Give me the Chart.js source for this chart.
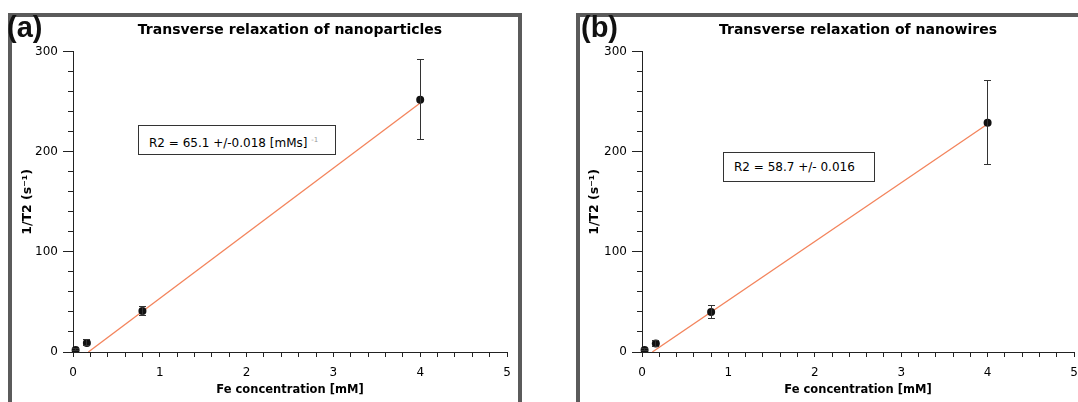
<!DOCTYPE html>
<html>
<head>
<meta charset="utf-8">
<script src="https://cdn.jsdelivr.net/npm/chart.js@4"></script>
<style>
  body { margin: 0; background: #fff; width: 1078px; height: 402px; overflow: hidden; position: relative; font-family: 'DejaVu Sans', sans-serif; }
  .frame { position: absolute; top: 13px; height: 420px; box-sizing: border-box; border: 4px solid #5b5b5b; }
  #frameA { left: 8px; width: 514px; }
  #frameB { left: 576px; width: 600px; }
  canvas { position: absolute; top: 0; }
  #chartA { left: 0; }
  #chartB { left: 538px; }
  .panel { position: absolute; top: 13px; font: bold 29px 'Liberation Sans', Arial, sans-serif; line-height: 29px; color: #111; }
  .fitbox { position: absolute; box-sizing: border-box; height: 30px; border: 1px solid #333; background: #fff;
            font-size: 12px; line-height: 28px; padding-left: 10px; color: #000; white-space: nowrap; }
  .fitbox .unit { font-size: 7px; color: #999; vertical-align: 5px; }
</style>
</head>
<body>
<div class="frame" id="frameA"></div>
<div class="frame" id="frameB"></div>
<canvas id="chartA" width="540" height="402"></canvas>
<canvas id="chartB" width="540" height="402"></canvas>
<div class="panel" style="left:7px">(a)</div>
<div class="panel" style="left:581px">(b)</div>
<div class="fitbox" style="left:138px; top:125px; width:198px">R2 = 65.1 +/-0.018 [mMs] <span class="unit">-1</span></div>
<div class="fitbox" style="left:723px; top:152px; width:152px">R2 = 58.7 +/- 0.016</div>

<script>
// Fe concentration of the samples [mM]
const feConc = [0.03, 0.16, 0.8, 4];

// 1/T2 [s^-1] with the half height of each error bar
const rateParticles = [2, 9, 41, 252];
const errParticles = [1, 3, 4.5, 40];
const rateWires = [2, 8.5, 40, 229];
const errWires = [1, 3, 6.5, 42];

// linear fits, slope in [mMs]^-1 and intercept in s^-1
const slopeParticles = 65.1;
const interceptParticles = -11.5;
const slopeWires = 58.7;
const interceptWires = -7.0;

const xTickLabels = [0, 1, 2, 3, 4, 5];
const yTickLabels = [0, 100, 200, 300];

Chart.defaults.font.family = "'DejaVu Sans', sans-serif";
Chart.defaults.color = '#000';

// fit line from where it crosses zero up to the last sample
function fitLine(slope, intercept) {
  const xs = [-intercept / slope, feConc[feConc.length - 1]];
  return xs.map(x => ({ x: x, y: slope * x + intercept }));
}

function points(rates) {
  return feConc.map((c, i) => ({ x: c, y: rates[i] }));
}

// vertical error bars with small caps
const errorBars = {
  id: 'errorBars',
  afterDatasetsDraw(chart) {
    const ds = chart.data.datasets[0];
    const xs = chart.scales.x, ys = chart.scales.y;
    const ctx = chart.ctx;
    ctx.save();
    ctx.strokeStyle = '#333';
    ctx.lineWidth = 1;
    ds.data.forEach((p, i) => {
      const e = ds.errors[i];
      const px = Math.round(xs.getPixelForValue(p.x) - 0.5) + 0.5;
      const top = Math.round(ys.getPixelForValue(p.y + e) - 0.5) + 0.5;
      const bot = Math.round(ys.getPixelForValue(p.y - e) - 0.5) + 0.5;
      ctx.beginPath();
      ctx.moveTo(px, top); ctx.lineTo(px, bot);
      ctx.moveTo(px - 3.5, top); ctx.lineTo(px + 3.5, top);
      ctx.moveTo(px - 3.5, bot); ctx.lineTo(px + 3.5, bot);
      ctx.stroke();
    });
    ctx.restore();
  }
};

// longer tick marks at the labelled y values
const majorTicks = {
  id: 'majorTicks',
  afterDraw(chart) {
    const ys = chart.scales.y;
    const ctx = chart.ctx;
    ctx.save();
    ctx.strokeStyle = '#222';
    ctx.lineWidth = 1;
    ctx.beginPath();
    yTickLabels.forEach(v => {
      const py = Math.round(ys.getPixelForValue(v) - 0.5) + 0.5;
      ctx.moveTo(ys.right - 10, py);
      ctx.lineTo(ys.right, py);
    });
    ctx.stroke();
    ctx.restore();
  }
};

function makeChart(id, title, rates, errors, slope, intercept, pad) {
  const ctx = document.getElementById(id).getContext('2d');
  return new Chart(ctx, {
    type: 'scatter',
    data: {
      datasets: [
        {
          data: points(rates),
          errors: errors,
          pointRadius: 4,
          pointBackgroundColor: '#111',
          pointBorderWidth: 0,
          clip: { left: false, top: false, right: false, bottom: 0 }
        },
        {
          data: fitLine(slope, intercept),
          showLine: true,
          pointRadius: 0,
          borderColor: '#f3845c',
          borderWidth: 1.3
        }
      ]
    },
    options: {
      responsive: false,
      animation: false,
      layout: { padding: { left: pad.left, right: pad.right, top: 0, bottom: 0 } },
      plugins: {
        legend: { display: false },
        tooltip: { enabled: false },
        title: {
          display: true,
          text: title,
          fullSize: false,
          font: { size: 14, weight: 'bold' },
          padding: { top: 22, bottom: 13 }
        }
      },
      scales: {
        x: {
          type: 'linear',
          min: 0,
          max: 5,
          border: { color: '#222' },
          grid: { drawOnChartArea: false, color: '#222', tickLength: 5 },
          ticks: {
            stepSize: 0.2,
            autoSkip: false,
            maxRotation: 0,
            padding: 9,
            font: { size: 12 },
            callback: v => {
              const r = Math.round(v);
              return Math.abs(v - r) < 1e-6 && xTickLabels.includes(r) ? String(r) : '';
            }
          },
          title: {
            display: true,
            text: 'Fe concentration [mM]',
            font: { size: 11.5, weight: 'bold' },
            padding: { top: 0, bottom: 5 }
          },
          afterFit: s => { s.height = 50; s.paddingLeft = 0; s.paddingRight = 0; }
        },
        y: {
          type: 'linear',
          min: 0,
          max: 300,
          border: { color: '#222' },
          grid: { drawOnChartArea: false, color: '#222', tickLength: 5 },
          ticks: {
            stepSize: 20,
            autoSkip: false,
            padding: 10,
            font: { size: 12 },
            callback: v => (yTickLabels.includes(v) ? String(v) : '')
          },
          title: {
            display: true,
            text: '1/T2 (s⁻¹)',
            font: { size: 12.5, weight: 'bold' },
            padding: { top: 8, bottom: 0 }
          },
          afterFit: s => { s.width = pad.yWidth; s.paddingTop = 0; s.paddingBottom = 0; }
        }
      }
    },
    plugins: [errorBars, majorTicks]
  });
}

makeChart('chartA', 'Transverse relaxation of nanoparticles', rateParticles, errParticles,
  slopeParticles, interceptParticles, { left: 12, right: 33, yWidth: 61 });
makeChart('chartB', 'Transverse relaxation of nanowires', rateWires, errWires,
  slopeWires, interceptWires, { left: 41, right: 1, yWidth: 63 });
</script>
</body>
</html>
